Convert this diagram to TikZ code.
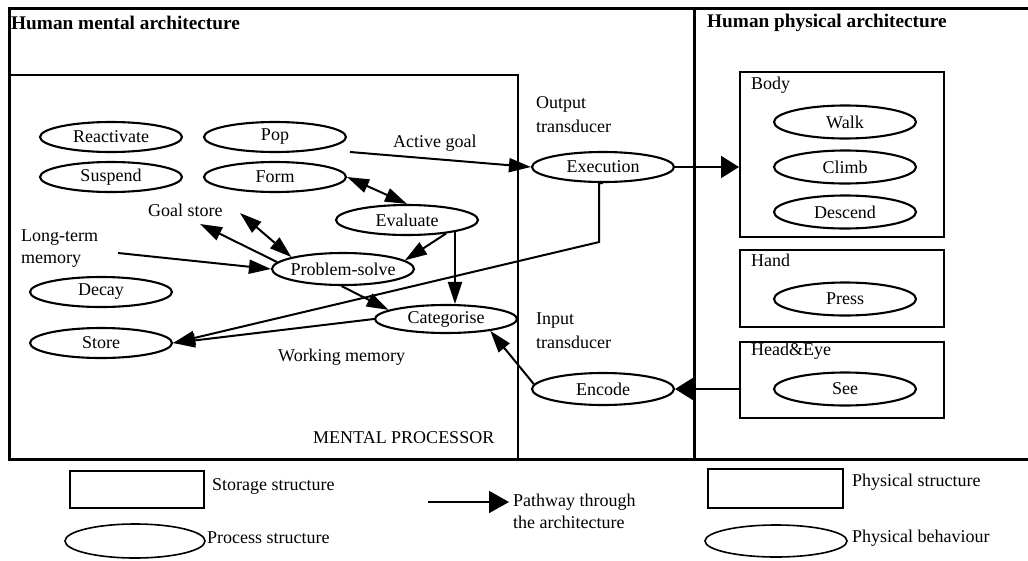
\documentclass[tikz,border=0pt]{standalone}
\usepackage{fontspec}
\setmainfont{Liberation Serif}
\usetikzlibrary{shapes.geometric,arrows.meta,calc}
\begin{document}
\begin{tikzpicture}[x=1pt,y=-1pt,
  every node/.style={font=\fontsize{18}{22}\selectfont},
  title/.style={font=\fontsize{19.3}{22}\selectfont\bfseries, anchor=west, inner sep=0pt},
  txt/.style={anchor=west, inner sep=0pt, align=left},
  twoline/.style={txt, font=\fontsize{18}{24}\selectfont},
  proc/.style={ellipse, draw, line width=2.1pt, minimum width=142pt, minimum height=30pt, inner sep=0pt},
  phys/.style={proc, minimum height=33pt},
  pbox/.style={draw, line width=2pt, rectangle, minimum width=204pt, inner sep=0pt},
  boxlabel/.style={anchor=west, inner sep=0pt},
  arr/.style={line width=2pt, -{Triangle[length=22pt,width=14pt]}},
  darr/.style={line width=2pt, {Triangle[length=22pt,width=14pt]}-{Triangle[length=22pt,width=14pt]}},
  bigarr/.style={line width=2pt, -{Triangle[length=18pt,width=22pt]}},
  legbox/.style={draw, line width=1.6pt, rectangle, inner sep=0pt},
  legell/.style={draw, line width=1.6pt, ellipse, inner sep=0pt},
]
\useasboundingbox (0,0) rectangle (1028,560);

% frames of the two architectures
\draw[line width=3pt] (1028,8) -- (9,8) -- (9,459) -- (1028,459);
\draw[line width=3pt] (694,8) -- (694,459);
\draw[line width=2.2pt] (9,75) -- (518,75) -- (518,459);

\node[title] (tmental) at (11,23) {Human mental architecture};
\node[title] (tphys) at (707,23) {Human physical architecture};

% mental processes
\node[proc, label=center:{Reactivate}] (react) at (111,137) {};
\node[proc, label=center:{Pop}] (pop) at (275,137) {};
\node[proc, label=center:{Suspend}] (susp) at (111,177) {};
\node[proc, label=center:{Form}] (form) at (275,177) {};
\node[proc, label=center:{Evaluate}] (eval) at (407,220) {};
\node[proc, label=center:{Problem-solve}, minimum height=32pt] (ps) at (343,269) {};
\node[proc, label=center:{Decay}] (decay) at (101,292) {};
\node[proc, label=center:{Categorise}, minimum height=28pt] (cat) at (446,319) {};
\node[proc, label=center:{Store}] (store) at (101,343) {};
\node[proc, label=center:{Execution}] (exec) at (603,167) {};
\node[proc, label=center:{Encode}, minimum height=32pt] (enc) at (603,389) {};

% mental labels
\node[twoline] (outtr) at (536,114.5) {Output\\transducer};
\node[twoline] (intr) at (536,330.5) {Input\\transducer};
\node[txt] (agoal) at (393,143) {Active goal};
\node[txt] (gstore) at (148,210) {Goal store};
\node[txt, font=\fontsize{18}{22}\selectfont] (ltm) at (21,249) {Long-term\\memory};
\node[txt] (wmem) at (278,357) {Working memory};
\node[txt] (mproc) at (313,438) {MENTAL PROCESSOR};

% physical structures
\node[pbox, minimum height=165pt] (body) at (842,154.5) {};
\node[pbox, minimum height=77pt] (hand) at (842,288.5) {};
\node[pbox, minimum height=76pt] (head) at (842,380) {};
\node[boxlabel] (lbody) at (751,85) {Body};
\node[boxlabel] (lhand) at (751,260) {Hand};
\node[boxlabel] (lhead) at (751,351) {Head\&Eye};

\node[phys, label=center:{Walk}] (walk) at (845,122) {};
\node[phys, label=center:{Climb}] (climb) at (845,167) {};
\node[phys, label=center:{Descend}] (desc) at (845,212) {};
\node[phys, label=center:{Press}] (press) at (845,299) {};
\node[phys, label=center:{See}] (see) at (845,389) {};

% free ends of connectors
\coordinate (agstart) at (350,152);
\coordinate (gs1) at (200,224);
\coordinate (gs2) at (240,213);
\coordinate (ltmend) at (118,253);

% pathways
\draw[arr] (agstart) -- (exec.west);
\draw[darr] (form.east) -- (eval.north);
\draw[arr] (ps.174) -- (gs1);
\draw[darr] (gs2) -- (ps.167);
\draw[arr] (ltmend) -- (ps.west);
\draw[arr] (eval.-19) -- (ps.8);
\draw[arr] (eval.-14) -- (eval.-14 |- cat.north);
\draw[arr] (ps.-95) -- (cat.171);
\draw[arr] (cat.west) -- (store.east);
\draw[arr] (exec.south) -- ++(-4,0) -- ++(0,59) -- (store.east);
\draw[arr] (enc.176) -- (cat.-15);
\draw[bigarr] (exec.east) -- (exec.east -| body.west);
\draw[bigarr] (enc.east -| head.west) -- (enc.east);

% key
\node[legbox, minimum width=134pt, minimum height=37pt] (kstore) at (137,489.5) {};
\node[txt] (kstoret) at (212,486) {Storage structure};
\node[legell, minimum width=140pt, minimum height=34pt] (kproc) at (135,541) {};
\node[txt] (kproct) at (207,538) {Process structure};
\coordinate (karrs) at (428,502);
\coordinate (karre) at (509,502);
\draw[line width=1.8pt, -{Triangle[length=20pt,width=22pt]}] (karrs) -- (karre);
\node[txt, font=\fontsize{18}{22}\selectfont] (kpath) at (513,511) {Pathway through\\the architecture};
\node[legbox, minimum width=135pt, minimum height=39pt] (kphys) at (775.5,488.5) {};
\node[txt] (kphyst) at (852,482) {Physical structure};
\node[legell, minimum width=142pt, minimum height=32pt] (kbeh) at (776,541) {};
\node[txt] (kbeht) at (852,538) {Physical behaviour};
\end{tikzpicture}
\end{document}
